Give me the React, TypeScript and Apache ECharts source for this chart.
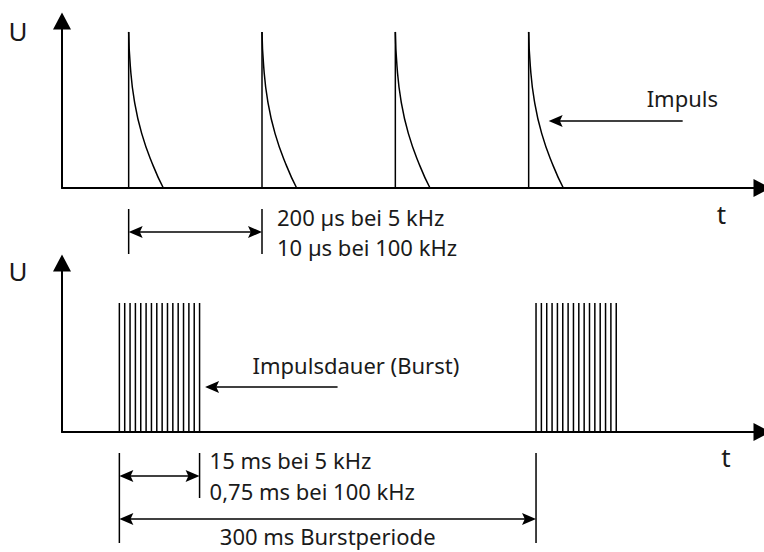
import { useEffect, useRef } from "react";
import * as echarts from "echarts";

// ---- data ----
const PULSE_TIMES_US = [100, 300, 500, 700];
const PULSE_HEIGHT = 1;
const DECAY_DT_US = [0, 2.5, 8.5, 19.5, 37, 52];
const DECAY_U = [1, 0.78, 0.56, 0.35, 0.14, 0];

const BURST_STARTS_MS = [41.3, 341.3];
const BURST_LINE_OFFSETS_MS = [0, 3.85, 7.7, 11.55, 15.4, 19.25, 23.1, 26.95, 30.8, 34.65, 38.5, 42.35, 46.2, 50.05, 53.9, 57.75];
const BURST_HEIGHT = 1;

const AXIS_U = "U";
const AXIS_T = "t";
const PULSE_LABEL = "Impuls";
const PERIOD_LABELS = ["200 µs bei 5 kHz", "10 µs bei 100 kHz"];
const BURST_LABEL = "Impulsdauer (Burst)";
const BURST_DURATION_LABELS = ["15 ms bei 5 kHz", "0,75 ms bei 100 kHz"];
const BURST_PERIOD_LABEL = "300 ms Burstperiode";

// ---- style ----
const INK = "#000";
const TEXT = "#1a1a1a";
const FONT = '"Noto Sans", "DejaVu Sans", sans-serif';
const FS = 22;
const FS_AXIS = 26;

function txt(text: string, x: number, y: number, align: string = "left", fontSize: number = FS) {
  return {
    type: "text",
    style: { text, x, y, fill: TEXT, fontSize, fontFamily: FONT, align, verticalAlign: "middle" },
  };
}
function seg(x1: number, y1: number, x2: number, y2: number, w = 1.5) {
  return { type: "line", shape: { x1, y1, x2, y2 }, style: { stroke: INK, lineWidth: w } };
}
function head(tipX: number, tipY: number, dir: number, len = 14, half = 6) {
  // dir: +1 points right, -1 points left
  return {
    type: "polygon",
    shape: { points: [[tipX, tipY], [tipX - dir * len, tipY - half], [tipX - dir * len * 0.8, tipY], [tipX - dir * len, tipY + half]] },
    style: { fill: INK },
  };
}
function dblArrow(xa: number, xb: number, y: number) {
  return [seg(xa + 8, y, xb - 8, y), head(xa, y, -1), head(xb, y, 1)];
}

const axisCommon = (gridIndex: number, min: number, max: number) => ({
  type: "value",
  gridIndex,
  min,
  max,
  axisLine: {
    show: true,
    onZero: false,
    symbol: ["none", "triangle"],
    symbolSize: [18, 17],
    lineStyle: { color: INK, width: 2 },
  },
  axisTick: { show: false },
  axisLabel: { show: false },
  splitLine: { show: false },
});

export default function App() {
  const ref = useRef<HTMLDivElement>(null);
  useEffect(() => {
    if (!ref.current) return;
    const chart = echarts.init(ref.current, undefined, { renderer: "svg" });

    const decaySeries = PULSE_TIMES_US.map((t) => ({
      type: "line",
      xAxisIndex: 0,
      yAxisIndex: 0,
      data: DECAY_DT_US.map((d, i) => [t + d, DECAY_U[i] * PULSE_HEIGHT]),
      smooth: 0.5,
      symbol: "none",
      lineStyle: { color: INK, width: 1.5 },
      silent: true,
    }));

    const vertical = (params: any, api: any) => {
      const p0 = api.coord([api.value(0), 0]);
      const p1 = api.coord([api.value(0), api.value(1)]);
      return seg(p0[0], p0[1], p1[0], p1[1]);
    };

    const option: any = {
      animation: false,
      backgroundColor: "#fff",
      grid: [
        { left: 62, top: 21, width: 700, height: 167 },
        { left: 62, top: 263, width: 700, height: 169 },
      ],
      xAxis: [axisCommon(0, 0, 1050), axisCommon(1, 0, 504)],
      yAxis: [axisCommon(0, 0, 1.07), axisCommon(1, 0, 1.31)],
      series: [
        {
          type: "custom",
          xAxisIndex: 0,
          yAxisIndex: 0,
          data: PULSE_TIMES_US.map((t) => [t, PULSE_HEIGHT]),
          renderItem: vertical,
          silent: true,
        },
        ...decaySeries,
        {
          type: "custom",
          xAxisIndex: 1,
          yAxisIndex: 1,
          data: BURST_STARTS_MS.flatMap((s) => BURST_LINE_OFFSETS_MS.map((o) => [s + o, BURST_HEIGHT])),
          renderItem: vertical,
          silent: true,
        },
        {
          // top panel annotations
          type: "custom",
          xAxisIndex: 0,
          yAxisIndex: 0,
          data: [[0, 0]],
          silent: true,
          renderItem: (params: any, api: any) => {
            const [x1, y0] = api.coord([PULSE_TIMES_US[0], 0]);
            const [x2] = api.coord([PULSE_TIMES_US[1], 0]);
            const [x4] = api.coord([PULSE_TIMES_US[PULSE_TIMES_US.length - 1], 0]);
            return {
              type: "group",
              children: [
                seg(x1, y0 + 21, x1, y0 + 66),
                seg(x2, y0 + 21, x2, y0 + 66),
                ...dblArrow(x1, x2, y0 + 44),
                txt(PERIOD_LABELS[0], x2 + 15, y0 + 29),
                txt(PERIOD_LABELS[1], x2 + 15, y0 + 58.5),
                seg(x4 + 30, y0 - 67, x4 + 154, y0 - 67),
                head(x4 + 20, y0 - 67, -1),
                txt(PULSE_LABEL, x4 + 118, y0 - 90),
              ],
            };
          },
        },
        {
          // bottom panel annotations
          type: "custom",
          xAxisIndex: 1,
          yAxisIndex: 1,
          data: [[0, 0]],
          silent: true,
          renderItem: (params: any, api: any) => {
            const last = BURST_LINE_OFFSETS_MS[BURST_LINE_OFFSETS_MS.length - 1];
            const [xs, y0] = api.coord([BURST_STARTS_MS[0], 0]);
            const [xe] = api.coord([BURST_STARTS_MS[0] + last, 0]);
            const [xn] = api.coord([BURST_STARTS_MS[1], 0]);
            return {
              type: "group",
              children: [
                seg(xs, y0 + 21, xs, y0 + 111),
                seg(xe, y0 + 21, xe, y0 + 66),
                seg(xn, y0 + 21, xn, y0 + 111),
                ...dblArrow(xs, xe, y0 + 44),
                ...dblArrow(xs, xn, y0 + 87),
                txt(BURST_DURATION_LABELS[0], xe + 10, y0 + 28),
                txt(BURST_DURATION_LABELS[1], xe + 10, y0 + 59),
                txt(BURST_PERIOD_LABEL, (xs + xn) / 2, y0 + 104, "center"),
                seg(xe + 15, y0 - 45, xe + 138, y0 - 45),
                head(xe + 5.5, y0 - 45, -1),
                txt(BURST_LABEL, xe + 53, y0 - 67.5),
              ],
            };
          },
        },
      ],
      graphic: [
        txt(AXIS_U, 18, 31, "center", FS_AXIS),
        txt(AXIS_U, 18, 271, "center", FS_AXIS),
        txt(AXIS_T, 721.5, 214, "center", FS_AXIS),
        txt(AXIS_T, 726, 457, "center", FS_AXIS),
      ],
    };
    chart.setOption(option);
    return () => chart.dispose();
  }, []);
  return (
    <div
      ref={ref}
      style={{ position: "fixed", left: 0, top: 0, width: 764, height: 552, background: "#fff" }}
    />
  );
}
